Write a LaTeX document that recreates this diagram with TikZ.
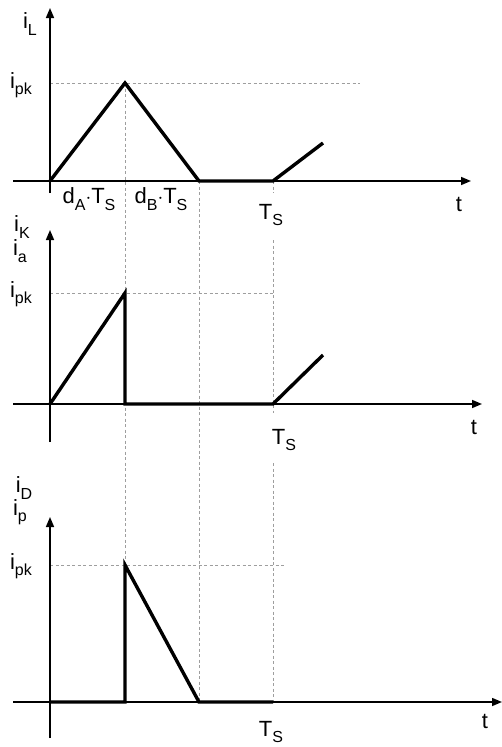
\documentclass[tikz,border=0pt]{standalone}
\usepackage{fontspec}
\setmainfont{Liberation Sans}
\usetikzlibrary{arrows.meta}
\definecolor{cguide}{HTML}{9E9E9E}
\newcommand{\lowidx}[1]{\raisebox{-0.55ex}{\fontsize{16}{16}\selectfont #1}}
\tikzset{
  axis/.style={line width=1.5pt, -{Triangle[length=10pt,width=8pt]}},
  wave/.style={line width=3.4pt},
  guide/.style={draw=cguide, line width=0.8pt, dash pattern=on 3pt off 2.5pt},
  lbl/.style={font=\fontsize{22}{24}\selectfont, inner sep=0pt},
}

\begin{document}
\begin{tikzpicture}[x=1pt, y=-1pt]
  \useasboundingbox (0,0) rectangle (502,747);
  % guide lines
  \draw[guide] (50,83) -- (360,83);
  \draw[guide] (50,293) -- (273,293);
  \draw[guide] (50,565) -- (285,565);
  \draw[guide] (125,83) -- (125,565);
  \draw[guide] (199,181) -- (199,702);
  \draw[guide] (273,181) -- (273,193);
  \draw[guide] (273,240) -- (273,413);
  \draw[guide] (273,463) -- (273,702);
  % axes
  \draw[axis] (13,181) -- (471,181);
  \draw[axis] (50,193) -- (50,8);
  \draw[axis] (13,404) -- (482,404);
  \draw[axis] (50,442) -- (50,230);
  \draw[axis] (13,702) -- (502,702);
  \draw[axis] (50,738) -- (50,517);
  % waveforms
  \draw[wave] (50,181) -- (125,83) -- (199,181) -- (273,181) -- (323,143);
  \draw[wave] (50,404) -- (125,293) -- (125,404) -- (273,404) -- (323,355);
  \draw[wave] (50,702) -- (125,702) -- (125,565) -- (199,702) -- (273,702);
  % labels
  \node[lbl] (iL) at (30,24) {i\lowidx{L}};
  \node[lbl] (pk1) at (21,85) {i\lowidx{pk}};
  \node[lbl] (dA) at (89,199) {d\lowidx{A}$\cdot$T\lowidx{S}};
  \node[lbl] (dB) at (161,199) {d\lowidx{B}$\cdot$T\lowidx{S}};
  \node[lbl] (Ts1) at (271,215) {T\lowidx{S}};
  \node[lbl] (t1) at (459,204) {t};
  \node[lbl] (iK) at (22,227) {i\lowidx{K}};
  \node[lbl] (ia) at (20,251) {i\lowidx{a}};
  \node[lbl] (pk2) at (21,294) {i\lowidx{pk}};
  \node[lbl] (Ts2) at (284,440) {T\lowidx{S}};
  \node[lbl] (t2) at (474,427) {t};
  \node[lbl] (iD) at (24,488) {i\lowidx{D}};
  \node[lbl] (ip) at (20,512) {i\lowidx{p}};
  \node[lbl] (pk3) at (21,566) {i\lowidx{pk}};
  \node[lbl] (Ts3) at (271,732) {T\lowidx{S}};
  \node[lbl] (t3) at (485,721) {t};
\end{tikzpicture}
\end{document}
